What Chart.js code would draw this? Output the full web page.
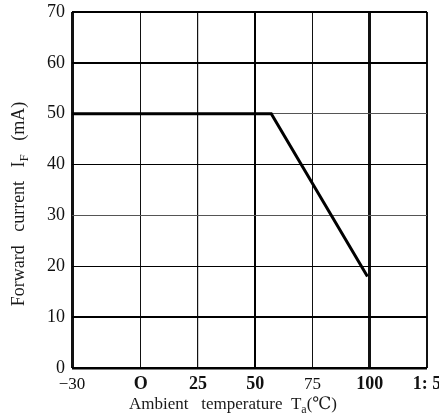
<!DOCTYPE html>
<html>
<head>
<meta charset="utf-8">
<script src="https://cdn.jsdelivr.net/npm/chart.js@4/dist/chart.umd.min.js"></script>
<style>
  html, body { margin: 0; padding: 0; background: #fff; }
</style>
</head>
<body>
<canvas id="myChart" width="439" height="415"></canvas>
<script>
// ambient temperature (deg C) and forward current (mA) along the derating curve
let temperature = [-30, 57, 99];
let forwardCurrent = [50, 50, 18];

let xTicks = [-30, 0, 25, 50, 75, 100, 125];
let xTickLabels = ["\u221230", "O", "25", "50", "75", "100", "1: 5"];
let yTicks = [0, 10, 20, 30, 40, 50, 60, 70];
let yTickLabels = ["0", "10", "20", "30", "40", "50", "60", "70"];

let boldX = ["O", "25", "50", "100", "1: 5"];
let serif = "'Liberation Serif', 'DejaVu Serif', serif";

// grid line weights copied from the printed chart
let xGridWidth = { "-30": 3, "0": 1, "25": 1.2, "50": 2, "75": 1, "100": 3, "125": 2 };
let yGridWidth = { "0": 2.5, "10": 2, "20": 1, "30": 1, "40": 1, "50": 1, "60": 2, "70": 2 };

drawParts = (ctx, parts, size) => {
  let widths = parts.map((p) => {
    ctx.font = (p.sub ? Math.round(size * 0.7) : size) + "px " + serif;
    return ctx.measureText(p.text).width;
  });
  let total = widths.reduce((a, b) => a + b, 0);
  let x = -total / 2;
  parts.forEach((p, i) => {
    ctx.font = (p.sub ? Math.round(size * 0.7) : size) + "px " + serif;
    ctx.fillText(p.text, x, p.sub ? 4 : 0);
    x += widths[i];
  });
};

let axisTitles = {
  id: "axisTitles",
  afterDraw: (chart) => {
    let ctx = chart.ctx;
    ctx.save();
    ctx.fillStyle = "#1a1a1a";
    ctx.textBaseline = "alphabetic";
    ctx.textAlign = "left";

    ctx.save();
    ctx.translate(24, 204);
    ctx.rotate(-Math.PI / 2);
    drawParts(ctx, [
      { text: "Forward   current   I" },
      { text: "F", sub: true },
      { text: "   (mA)" },
    ], 18);
    ctx.restore();

    ctx.save();
    ctx.translate(233, 409);
    drawParts(ctx, [
      { text: "Ambient   temperature  T" },
      { text: "a", sub: true },
      { text: "(\u2103)" },
    ], 17);
    ctx.restore();

    ctx.restore();
  },
};

let ctx = document.getElementById("myChart").getContext("2d");
let chart = new Chart(ctx, {
  type: "line",
  data: {
    datasets: [
      {
        label: "Forward current",
        data: temperature.map((t, i) => ({ x: t, y: forwardCurrent[i] })),
        borderColor: "#000",
        backgroundColor: "#000",
        borderWidth: 3,
        pointRadius: 0,
        tension: 0,
        fill: false,
      },
    ],
  },
  options: {
    responsive: false,
    animation: false,
    layout: { padding: { top: 12, right: 12, left: 0, bottom: 0 } },
    plugins: {
      legend: { display: false },
      tooltip: { enabled: false },
      title: { display: false },
    },
    scales: {
      x: {
        type: "linear",
        min: -30,
        max: 125,
        afterBuildTicks: (scale) => {
          scale.ticks = xTicks.map((v) => ({ value: v }));
        },
        afterFit: (scale) => {
          scale.height = 47;
          scale.paddingLeft = 0;
          scale.paddingRight = 0;
        },
        border: { display: false },
        grid: {
          color: (c) => (c.tick && c.tick.value === 50 ? "#000" : "#111"),
          lineWidth: (c) => (c.tick ? xGridWidth[String(c.tick.value)] || 1 : 1),
          drawTicks: false,
        },
        ticks: {
          autoSkip: false,
          maxRotation: 0,
          padding: 6,
          color: "#111",
          callback: (value) => xTickLabels[xTicks.indexOf(value)],
          font: (c) => {
            let label = xTickLabels[xTicks.indexOf(c.tick ? c.tick.value : NaN)];
            let bold = boldX.indexOf(label) >= 0;
            return { family: serif, size: bold ? 18 : 17, weight: bold ? "bold" : "normal" };
          },
        },
      },
      y: {
        type: "linear",
        min: 0,
        max: 70,
        afterBuildTicks: (scale) => {
          scale.ticks = yTicks.map((v) => ({ value: v }));
        },
        afterFit: (scale) => {
          scale.width = 72;
          scale.paddingTop = 0;
          scale.paddingBottom = 0;
        },
        border: { display: false },
        grid: {
          color: (c) => (c.tick && (c.tick.value === 30 || c.tick.value === 50) ? "#555" : "#000"),
          lineWidth: (c) => (c.tick ? yGridWidth[String(c.tick.value)] || 1 : 1),
          drawTicks: false,
        },
        ticks: {
          autoSkip: false,
          padding: 7,
          color: "#111",
          callback: (value) => yTickLabels[yTicks.indexOf(value)],
          font: { family: serif, size: 18 },
        },
      },
    },
  },
  plugins: [axisTitles],
});
</script>
</body>
</html>
